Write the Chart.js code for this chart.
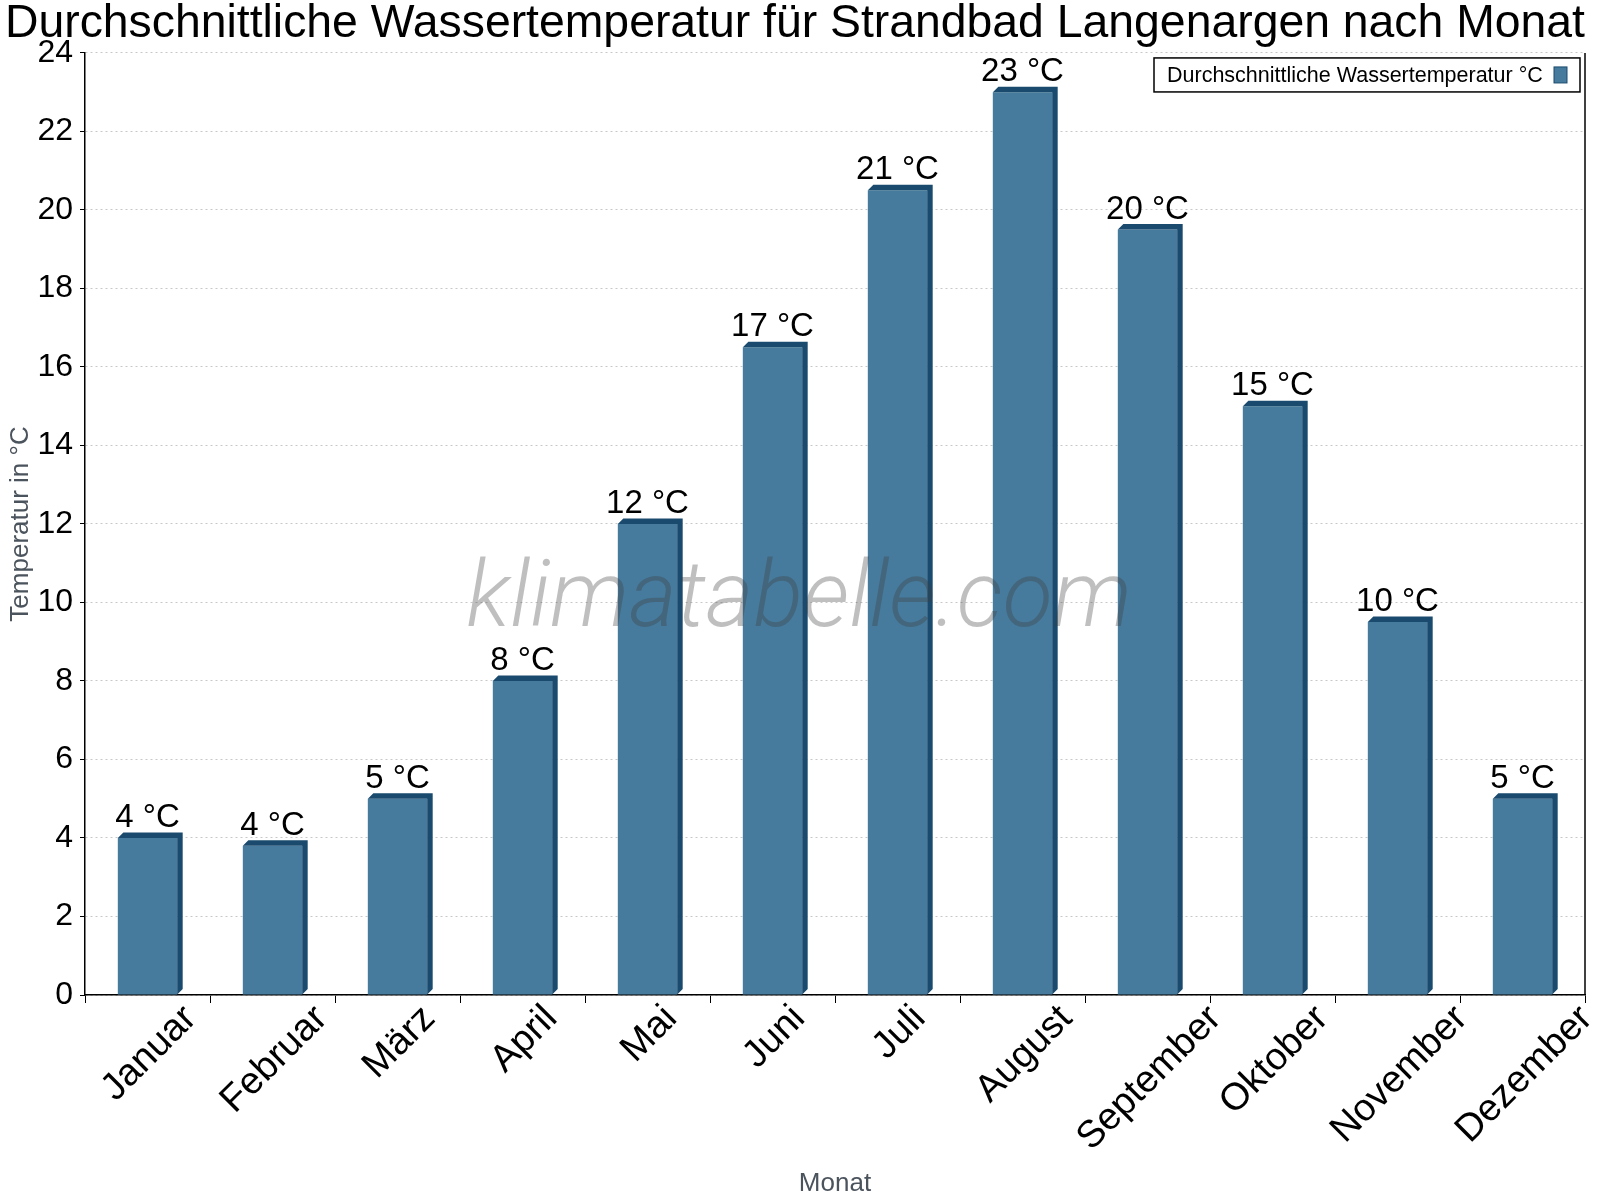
<!DOCTYPE html>
<html>
<head>
<meta charset="utf-8">
<script src="https://cdn.jsdelivr.net/npm/chart.js@4.4.1/dist/chart.umd.min.js"></script>
<style>
body { margin: 0; background: #fff; }
canvas { display: block; }
</style>
</head>
<body>
<canvas id="chart" width="1600" height="1200"></canvas>
<script>
const months = ['Januar', 'Februar', 'März', 'April', 'Mai', 'Juni', 'Juli', 'August', 'September', 'Oktober', 'November', 'Dezember'];
const waterTemps = [4, 3.8, 5, 8, 12, 16.5, 20.5, 23, 19.5, 15, 9.5, 5];
const yTicks = [0, 2, 4, 6, 8, 10, 12, 14, 16, 18, 20, 22, 24];
const seriesName = 'Durchschnittliche Wassertemperatur °C';
const chartTitle = 'Durchschnittliche Wassertemperatur für Strandbad Langenargen nach Monat';

const FONT = '"Liberation Sans", Arial, sans-serif';
const barFront = '#467b9d';
const barDark = '#1a4b6e';
const depth = 5.5;

// fake 3d top and side + value labels
const bar3d = {
    id: 'bar3d',
    afterDatasetsDraw(chart) {
        const ctx = chart.ctx;
        const meta = chart.getDatasetMeta(0);
        meta.data.forEach((bar, i) => {
            const p = bar.getProps(['x', 'y', 'base', 'width'], true);
            const L = p.x - p.width / 2;
            const R = p.x + p.width / 2;
            ctx.save();
            ctx.fillStyle = barDark;
            ctx.beginPath();
            ctx.moveTo(L, p.y);
            ctx.lineTo(L + depth, p.y - depth);
            ctx.lineTo(R + depth, p.y - depth);
            ctx.lineTo(R + depth, p.base - depth);
            ctx.lineTo(R, p.base);
            ctx.lineTo(R, p.y);
            ctx.closePath();
            ctx.fill();
            ctx.fillStyle = '#000';
            ctx.font = '33px ' + FONT;
            ctx.textAlign = 'center';
            ctx.textBaseline = 'alphabetic';
            ctx.fillText(Math.round(waterTemps[i]) + ' °C', p.x, p.y - 11);
            ctx.restore();
        });
    }
};

// rotated month labels, centred under each bar
const monthLabels = {
    id: 'monthLabels',
    afterDraw(chart) {
        const ctx = chart.ctx;
        const xs = chart.scales.x;
        const size = 38;
        ctx.save();
        ctx.font = size + 'px ' + FONT;
        ctx.fillStyle = '#000';
        ctx.textAlign = 'center';
        ctx.textBaseline = 'middle';
        months.forEach((m, i) => {
            const x = xs.getPixelForValue(i);
            const w = ctx.measureText(m).width;
            const half = (w + size * 0.72) * 0.7071 / 2;
            ctx.save();
            ctx.translate(x + 2, xs.top + 8 + half);
            ctx.rotate(-Math.PI / 4);
            ctx.fillText(m, 0, 0);
            ctx.restore();
        });
        ctx.restore();
    }
};

const extras = {
    id: 'extras',
    afterDraw(chart) {
        const ctx = chart.ctx;
        const a = chart.chartArea;
        ctx.save();
        // right frame line
        ctx.strokeStyle = '#000';
        ctx.lineWidth = 1.5;
        ctx.beginPath();
        ctx.moveTo(a.right, a.top);
        ctx.lineTo(a.right, a.bottom);
        ctx.stroke();

        // watermark
        ctx.font = 'italic 300 92px Roboto';
        ctx.fillStyle = 'rgba(60,60,60,0.33)';
        ctx.textAlign = 'center';
        ctx.textBaseline = 'alphabetic';
        ctx.fillText('klimatabelle.com', 799, 626);

        // legend box
        const bx = a.right - 431, by = a.top + 5, bw = 426, bh = 34;
        ctx.fillStyle = '#fff';
        ctx.fillRect(bx, by, bw, bh);
        ctx.lineWidth = 1.5;
        ctx.strokeRect(bx, by, bw, bh);
        ctx.font = '21.5px ' + FONT;
        ctx.fillStyle = '#000';
        ctx.textAlign = 'left';
        ctx.fillText(seriesName, bx + 13, by + 24);
        ctx.fillStyle = barFront;
        ctx.fillRect(bx + 400, by + 9, 13, 16);
        ctx.lineWidth = 1;
        ctx.strokeStyle = barDark;
        ctx.strokeRect(bx + 400, by + 9, 13, 16);
        ctx.restore();
    }
};

const ctx = document.getElementById('chart').getContext('2d');
const chart = new Chart(ctx, {
    type: 'bar',
    data: {
        labels: months,
        datasets: [{
            label: seriesName,
            data: waterTemps,
            backgroundColor: barFront,
            borderWidth: 0,
            barPercentage: 0.475,
            categoryPercentage: 1
        }]
    },
    options: {
        responsive: false,
        animation: false,
        devicePixelRatio: 1,
        layout: {
            padding: { left: 5, right: 15, top: 0, bottom: 0 }
        },
        plugins: {
            legend: { display: false },
            tooltip: { enabled: false },
            title: {
                display: true,
                text: chartTitle,
                align: 'start',
                color: '#000',
                font: { family: FONT, size: 46.6, weight: 'normal', lineHeight: 0.9 },
                padding: { top: 3, bottom: 8 }
            }
        },
        scales: {
            x: {
                grid: {
                    drawOnChartArea: false,
                    drawTicks: true,
                    tickLength: 8,
                    tickColor: '#000',
                    offset: true
                },
                border: { color: '#000', width: 1.5 },
                ticks: { display: false },
                title: {
                    display: true,
                    text: 'Monat',
                    color: '#4b535c',
                    font: { family: FONT, size: 26 },
                    padding: { top: 0, bottom: 1 }
                },
                afterFit(scale) {
                    scale.height = 205;
                }
            },
            y: {
                min: 0,
                max: 24,
                afterBuildTicks(scale) {
                    scale.ticks = yTicks.map(v => ({ value: v }));
                },
                ticks: {
                    color: '#000',
                    font: { family: FONT, size: 32 },
                    padding: 7
                },
                grid: {
                    color: '#c8c8c8',
                    tickColor: '#000',
                    tickLength: 5,
                    lineWidth: 1
                },
                border: { color: '#000', width: 1.5, dash: [2, 3] },
                title: {
                    display: true,
                    text: 'Temperatur in °C',
                    color: '#4b535c',
                    font: { family: FONT, size: 26 },
                    padding: { top: 0, bottom: 0 }
                },
                afterFit(scale) {
                    scale.width = 80;
                }
            }
        }
    },
    plugins: [bar3d, monthLabels, extras]
});
</script>
</body>
</html>
